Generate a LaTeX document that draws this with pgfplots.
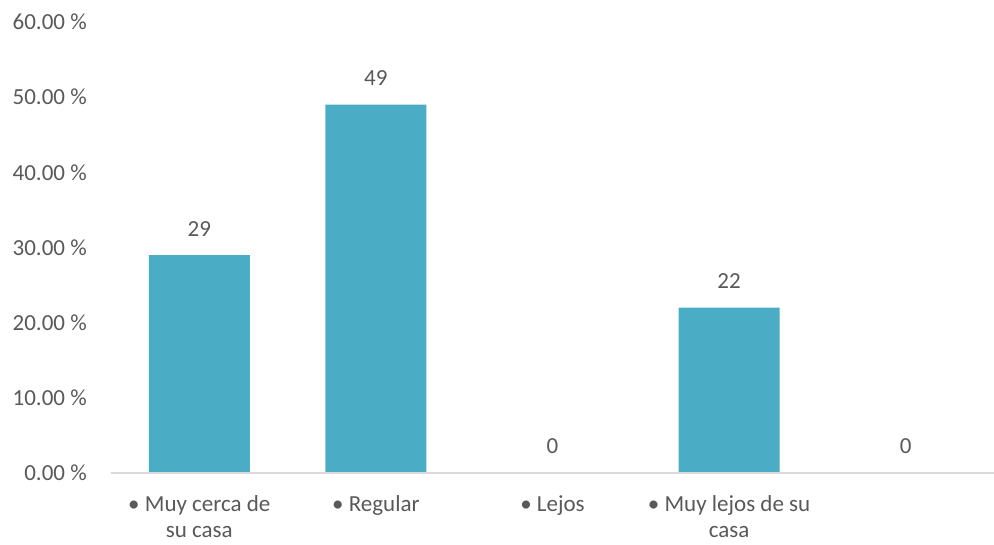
\documentclass[border=0pt]{standalone}
\usepackage{pgfplots}
\pgfplotsset{compat=1.18}
\usepackage{fontspec}
\setmainfont{Carlito}
\definecolor{barc}{HTML}{4BACC6}
\definecolor{txt}{HTML}{595959}
\definecolor{axc}{HTML}{D9D9D9}
\newcommand{\lblfont}{\fontsize{17.25}{19}\selectfont}

\begin{document}
\begin{tikzpicture}
\begin{axis}[
  name=ax,
  scale only axis,
  width=662.25pt, height=338.25pt,
  xmin=-0.5, xmax=4.5,
  ymin=0, ymax=60,
  ytick={0,10,...,60},
  xtick={0,1,2,3,4},
  xticklabels={{• Muy cerca de\\su casa},{• Regular},{• Lejos},{• Muy lejos de su\\casa},{}},
  yticklabel={\pgfmathprintnumber[fixed,fixed zerofill,precision=2,assume math mode=true]{\tick}~\%},
  major tick length=0pt,
  axis lines=left,
  axis on top,
  y axis line style={draw=none},
  x axis line style={draw=axc, line width=1.3pt, -},
  tick label style={font=\lblfont, text=txt},
  yticklabel style={anchor=east, inner sep=0pt, xshift=-18pt},
  xticklabel style={anchor=north, inner sep=0pt, yshift=-17pt, align=center},
  nodes near coords={\pgfmathprintnumber[fixed,precision=0,assume math mode=true]{\pgfplotspointmeta}},
  nodes near coords style={anchor=south, inner sep=0pt, yshift=14pt, font=\lblfont, text=txt},
  point meta=y,
  clip=false,
]
\addplot[ybar, bar width=75.75pt, fill=barc, draw=none]
  coordinates {(0,29) (1,49) (2,0) (3,22) (4,0)};
\end{axis}
\pgfresetboundingbox
\path ([xshift=-83.25pt,yshift=-54pt]ax.south west) rectangle ([yshift=16.5pt]ax.north east);
\end{tikzpicture}
\end{document}
